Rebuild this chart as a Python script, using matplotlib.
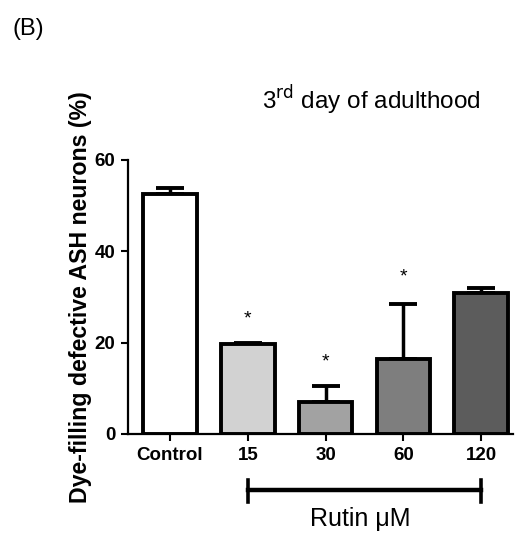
import matplotlib.pyplot as plt
import matplotlib.transforms as mtransforms
import numpy as np

plt.rcParams['font.family'] = ['Liberation Sans', 'DejaVu Sans']

# data
groups = ["Control", "15", "30", "60", "120"]
means = [52.5, 19.6, 7.0, 16.5, 30.9]
errors = [1.3, 0.3, 3.6, 11.9, 1.1]
colors = ["#ffffff", "#d2d2d2", "#a2a2a2", "#7e7e7e", "#5c5c5c"]
star_y = [None, 25.2, 15.8, 34.3, None]

fig = plt.figure(figsize=(5.15, 5.35), dpi=100)
ax = fig.add_axes([128 / 515, 1 - 434 / 535, 385 / 515, 274 / 535])

x = np.arange(len(groups))
ax.bar(x, means, width=0.69, color=colors, edgecolor="black", linewidth=2.8, zorder=2)
ax.errorbar(x, means, yerr=[np.zeros(len(errors)), errors], fmt="none",
            ecolor="black", elinewidth=2.5, capsize=10, capthick=2.8, zorder=1)

for xi, sy in zip(x, star_y):
    if sy is not None:
        ax.text(xi, sy, "*", ha="center", va="center", fontsize=14)

ax.set_xlim(-0.54, 4.41)
ax.set_ylim(0, 60)
ax.set_yticks([0, 20, 40, 60])
ax.set_xticks(x)
ax.set_xticklabels(groups, fontsize=13.5, fontweight="bold")
for lab in ax.get_yticklabels():
    lab.set_fontsize(13.5)
    lab.set_fontweight("bold")
ax.tick_params(axis="both", width=1.5, length=5, direction="out", pad=4)
for s in ["top", "right"]:
    ax.spines[s].set_visible(False)
for s in ["left", "bottom"]:
    ax.spines[s].set_linewidth(1.6)

ax.set_ylabel("Dye-filling defective ASH neurons (%)", fontsize=16.7,
              fontweight="bold", labelpad=2)

# Rutin bracket below the axis
trans = mtransforms.blended_transform_factory(ax.transData, ax.transAxes)
ax.plot([1, 4], [-0.204, -0.204], color="black", lw=3.2, transform=trans, clip_on=False)
for xe in [1, 4]:
    ax.plot([xe, xe], [-0.168, -0.248], color="black", lw=2.6, transform=trans, clip_on=False)
ax.text(2.45, -0.31, "Rutin \u03bcM", transform=trans, ha="center", va="center", fontsize=18)

fig.text(371 / 515, 1 - 100 / 535, "3$^{\\mathrm{rd}}$ day of adulthood",
         ha="center", va="center", fontsize=17.5)
fig.text(13 / 515, 1 - 29 / 535, "(B)", ha="left", va="center", fontsize=17)

fig.savefig("out.png", dpi=100)
